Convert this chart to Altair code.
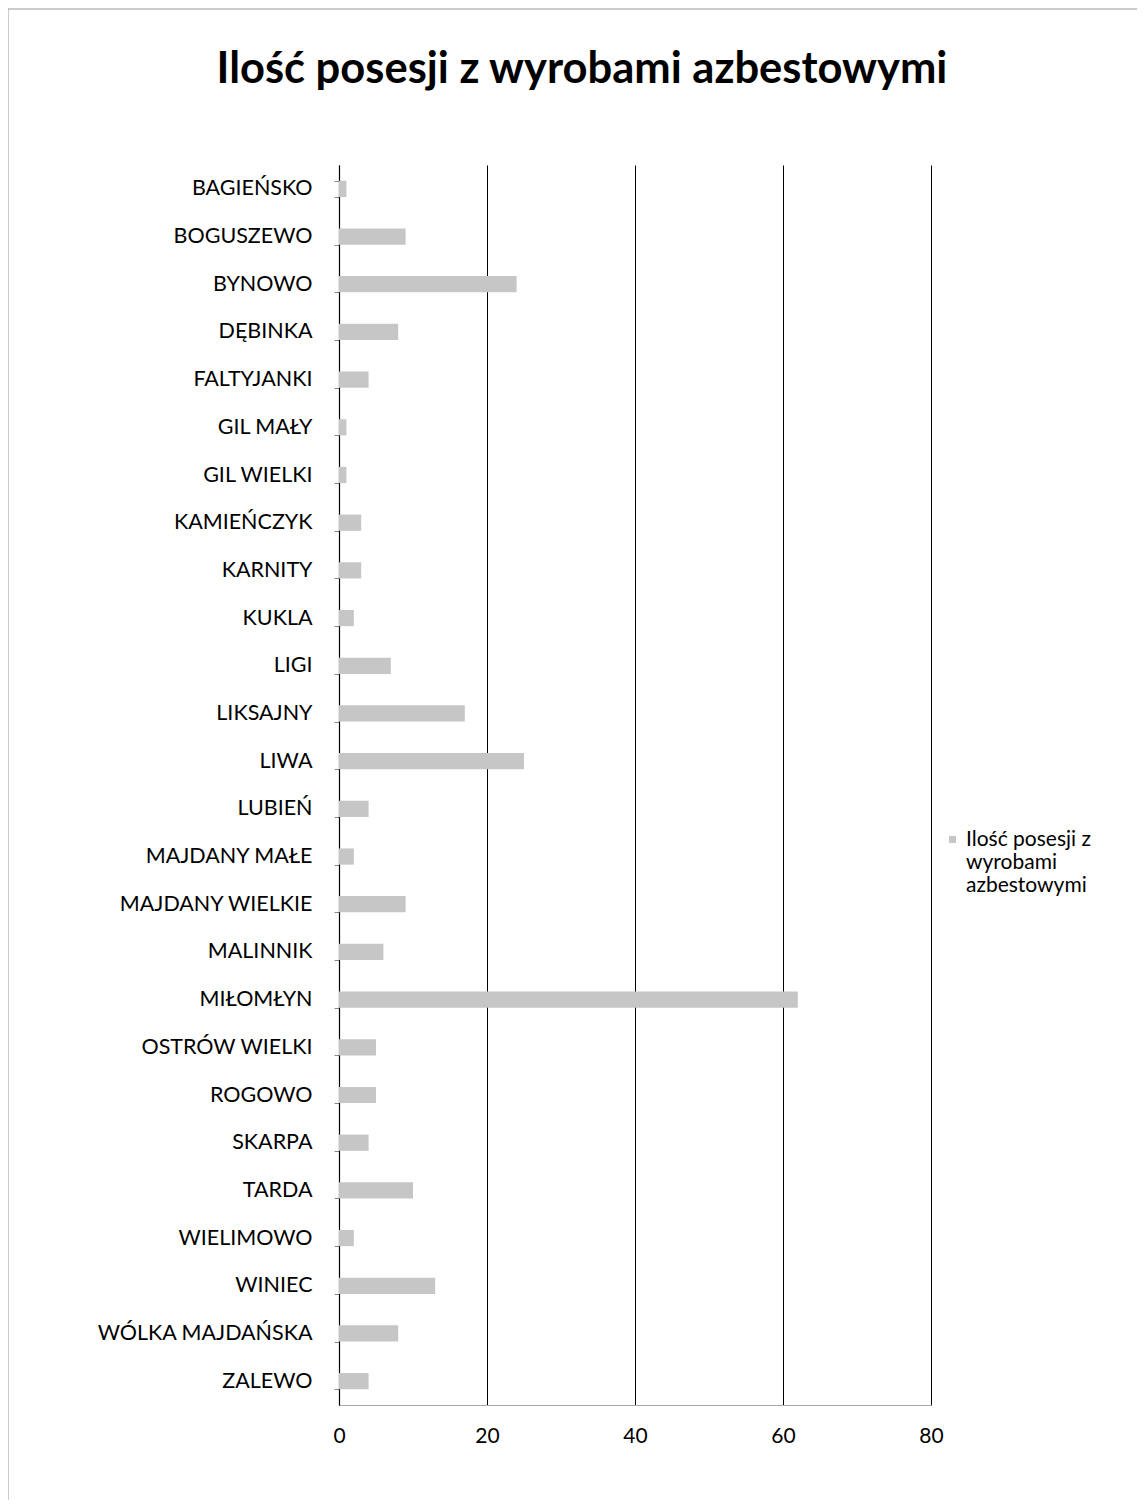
import altair as alt
import pandas as pd

categories = ["BAGIEŃSKO", "BOGUSZEWO", "BYNOWO", "DĘBINKA", "FALTYJANKI", "GIL MAŁY",
              "GIL WIELKI", "KAMIEŃCZYK", "KARNITY", "KUKLA", "LIGI", "LIKSAJNY", "LIWA",
              "LUBIEŃ", "MAJDANY MAŁE", "MAJDANY WIELKIE", "MALINNIK", "MIŁOMŁYN",
              "OSTRÓW WIELKI", "ROGOWO", "SKARPA", "TARDA", "WIELIMOWO", "WINIEC",
              "WÓLKA MAJDAŃSKA", "ZALEWO"]
values = [1, 9, 24, 8, 4, 1, 1, 3, 3, 2, 7, 17, 25, 4, 2, 9, 6, 62, 5, 5, 4, 10, 2, 13, 8, 4]
series_name = "Ilość posesji z wyrobami azbestowymi"
legend_lines = ["Ilość posesji z", "wyrobami", "azbestowymi"]
x_ticks = [0, 20, 40, 60, 80]

df = pd.DataFrame({"kategoria": categories, "wartosc": values, "seria": series_name})

FONT = "Lato"
legend_expr = "[" + ", ".join("'" + s + "'" for s in legend_lines) + "]"

bars = alt.Chart(df).mark_bar(color="#c6c6c6").encode(
    y=alt.Y("kategoria:N", sort=categories,
            scale=alt.Scale(paddingInner=0.66, paddingOuter=0.33),
            axis=alt.Axis(title=None, labelFont=FONT, labelFontSize=21.5, labelColor="#000",
                          labelPadding=22, labelLimit=400, tickBand="extent", tickSize=5,
                          tickColor="#888", domainColor="#000", domainWidth=1.2)),
    x=alt.X("wartosc:Q", scale=alt.Scale(domain=[0, 80], nice=False),
            axis=alt.Axis(title=None, values=x_ticks, labelFont=FONT, labelFontSize=21,
                          labelColor="#000", labelPadding=20, ticks=False, labelFlush=False,
                          grid=True, gridColor="#000", gridWidth=1,
                          domainColor="#aaa", domainWidth=1)),
    color=alt.Color("seria:N", scale=alt.Scale(range=["#c6c6c6"]),
                    legend=alt.Legend(title=None, orient="none", legendX=603, legendY=664,
                                      symbolType="square", symbolSize=50,
                                      labelFont=FONT, labelFontSize=21, labelColor="#000",
                                      labelLimit=300, labelOffset=3,
                                      labelExpr=legend_expr)),
)

frame = alt.Chart(pd.DataFrame({"a": [0]})).mark_rect(fill=None, stroke="#999", strokeWidth=1).encode(
    x=alt.value(-331), x2=alt.value(801), y=alt.value(-156), y2=alt.value(1400)
)

chart = alt.layer(frame, bars).properties(
    width=592, height=1240,
    autosize="none",
    padding={"left": 331, "top": 157, "right": 206, "bottom": 95},
    title=alt.TitleParams(series_name, font=FONT, fontSize=43.5, fontWeight="bold",
                          color="#000", anchor="middle", frame="group", dx=-53, offset=-84),
).configure_view(stroke=None)

chart.save("out.html", embed_options={"renderer": "svg", "actions": False})
